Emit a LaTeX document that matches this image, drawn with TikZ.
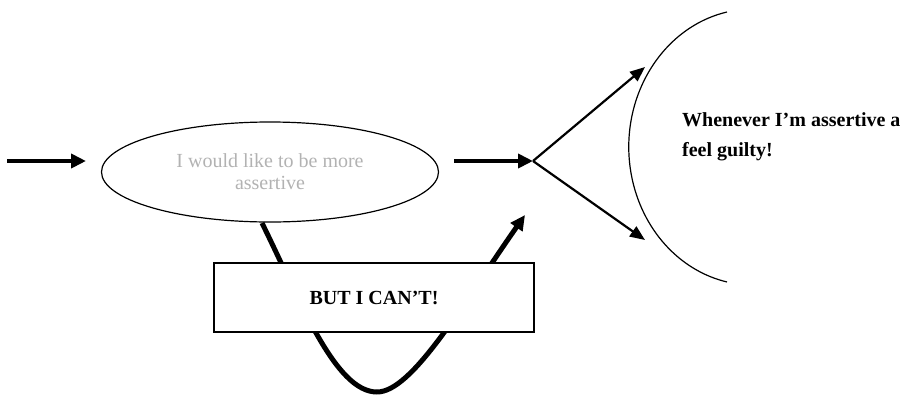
\documentclass[tikz,border=0pt]{standalone}
\usepackage{fontspec}
\setmainfont{Liberation Serif}
\usetikzlibrary{shapes.geometric,arrows.meta}
\tikzset{
  thickarrow/.style={line width=4pt,-{Triangle[length=15pt,width=14pt]}},
  thinarrow/.style={line width=2.2pt,-{Triangle[length=15pt,width=12pt]}},
  wish/.style={ellipse,draw,line width=1.2pt,minimum width=337pt,minimum height=100pt,inner sep=0pt,
    align=center,text=black!30,font=\fontsize{20}{22}\selectfont},
  cantbox/.style={rectangle,draw,line width=1.2pt,fill=white,minimum width=320pt,minimum height=69pt,
    inner sep=0pt,font=\fontsize{20}{22}\selectfont\bfseries},
  guilt/.style={anchor=north west,align=left,inner sep=0pt,font=\fontsize{20}{30}\selectfont\bfseries}
}
\begin{document}
\begin{tikzpicture}[x=1pt,y=-1pt]
\useasboundingbox (0,0) rectangle (908,394);
% nodes
\node[wish] (e) at (270,172) {I would like to be more\\assertive};
\coordinate (s) at (7,161);
\coordinate (le) at (86,161);
\coordinate (v) at (533,161);
\coordinate (rs) at (454,161);
\coordinate (up) at (645,67);
\coordinate (dn) at (645,240);
\coordinate (cs) at (262,223);
\coordinate (cm) at (377,392);
\coordinate (ct) at (525,215);
% connectors
\draw[thickarrow] (s) -- (le);
\draw[thickarrow] (rs) -- (v);
\draw[thinarrow] (v) -- (up);
\draw[thinarrow] (v) -- (dn);
\draw[line width=5pt] (cs) .. controls (300,300) and (335,392) .. (cm);
\draw[thickarrow,line width=5pt] (cm) .. controls (412,392) and (462,305) .. (ct);
\node[cantbox] (b) at (374,297.5) {BUT I CAN’T!};
% arc
\draw[line width=1.2pt] (727,12) arc[start angle=258,end angle=102,x radius=124,y radius=138];
\node[guilt] (g) at (682,112) {Whenever I’m assertive a\\feel guilty!};
\end{tikzpicture}
\end{document}
